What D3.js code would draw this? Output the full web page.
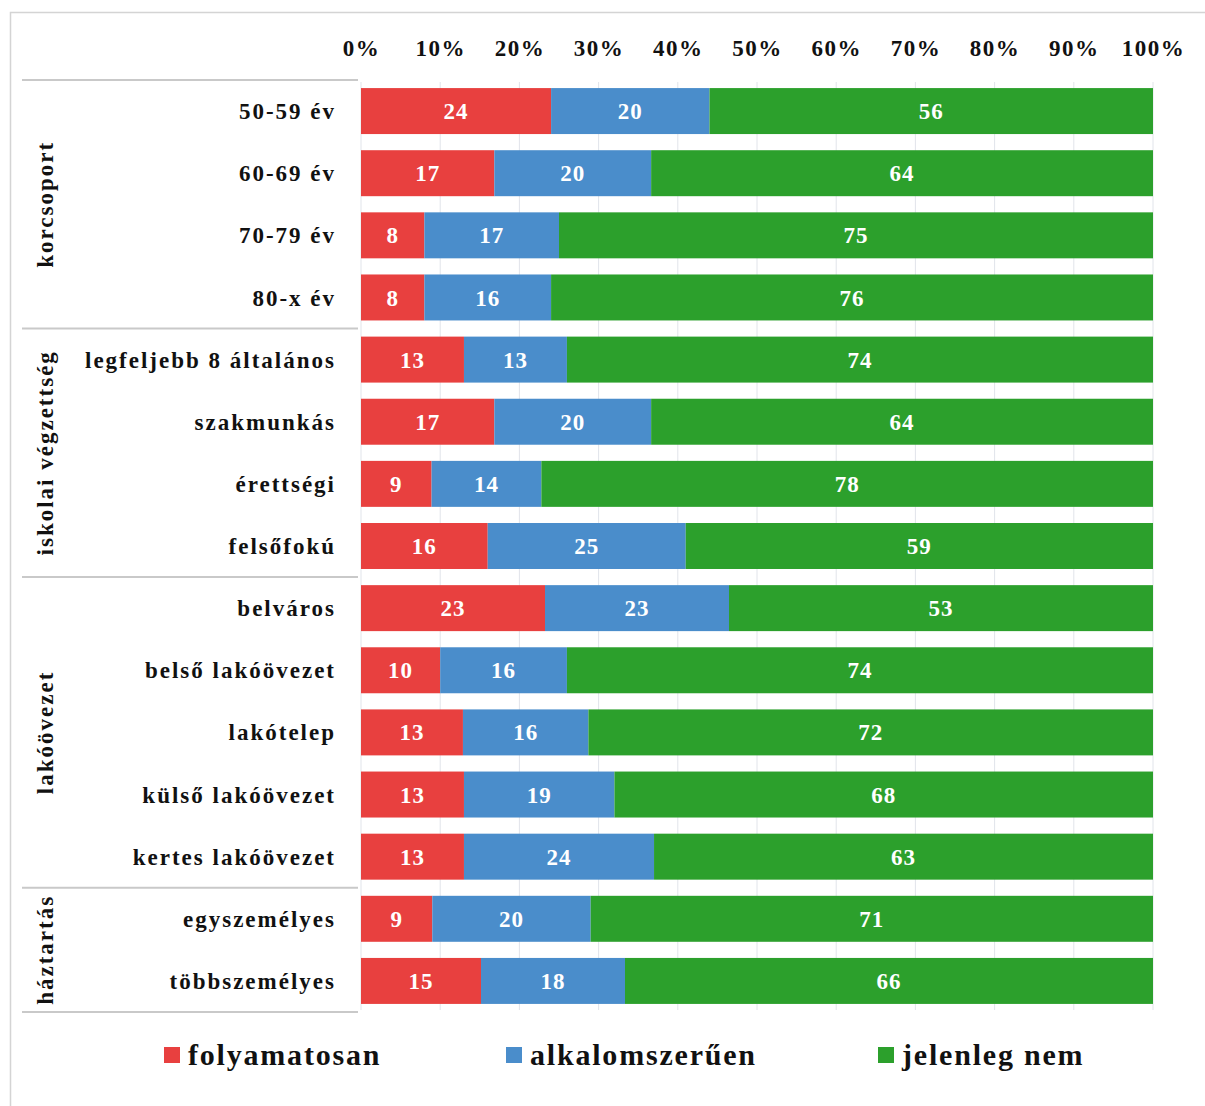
<!DOCTYPE html>
<html>
<head>
<meta charset="utf-8">
<script src="https://cdn.jsdelivr.net/npm/d3@7"></script>
<style>
  html, body { margin: 0; padding: 0; background: #fff; }
  svg text { font-family: "Liberation Serif", "DejaVu Serif", serif !important; font-weight: bold; }
</style>
</head>
<body>
<svg id="chart" width="1205" height="1106"></svg>
<script>
// ---- data ----
const categories = [
  "50-59 év", "60-69 év", "70-79 év", "80-x év",
  "legfeljebb 8 általános", "szakmunkás", "érettségi", "felsőfokú",
  "belváros", "belső lakóövezet", "lakótelep", "külső lakóövezet", "kertes lakóövezet",
  "egyszemélyes", "többszemélyes"
];
const groups = ["korcsoport", "iskolai végzettség", "lakóövezet", "háztartás"];
const groupSizes = [4, 4, 5, 2];
const seriesNames = ["folyamatosan", "alkalomszerűen", "jelenleg nem"];
const folyamatosan   = [24, 17, 8, 8, 13, 17, 9, 16, 23, 10, 13, 13, 13, 9, 15];
const alkalomszeruen = [20, 20, 17, 16, 13, 20, 14, 25, 23, 16, 16, 19, 24, 20, 18];
const jelenlegNem    = [56, 64, 75, 76, 74, 64, 78, 59, 53, 74, 72, 68, 63, 71, 66];
const tickLabels = ["0%", "10%", "20%", "30%", "40%", "50%", "60%", "70%", "80%", "90%", "100%"];
const colors = ["#e8403f", "#4a8dcb", "#2ca02c"];

// ---- build table ----
const keys = ["f", "a", "j"];
const rows = categories.map((c, i) => ({ cat: c, f: folyamatosan[i], a: alkalomszeruen[i], j: jelenlegNem[i] }));
const stacked = d3.stack().keys(keys).offset(d3.stackOffsetExpand)(rows);

const svg = d3.select("#chart").style("font-family", "'Liberation Serif', serif");
const FONT = "'Liberation Serif', 'DejaVu Serif', serif";

// frame
svg.append("rect").attr("x", 10.5).attr("y", 12.5).attr("width", 1200).attr("height", 1100)
  .attr("fill", "none").attr("stroke", "#d4d4d4").attr("stroke-width", 1.5);

const x = d3.scaleLinear().domain([0, 1]).range([361, 1153]);
const y = d3.scaleBand().domain(categories).range([80, 1012]).paddingInner(0.26).paddingOuter(0.13);

// grid lines
const ticks = d3.range(0, 1.0001, 0.1);
svg.append("g").selectAll("line").data(ticks).join("line")
  .attr("x1", d => x(d)).attr("x2", d => x(d))
  .attr("y1", 82).attr("y2", 1010)
  .attr("stroke", "#e1e4ea").attr("stroke-width", 1);

// top axis
const axis = d3.axisTop(x).tickValues(ticks).tickFormat((d, i) => tickLabels[i]).tickSize(0).tickPadding(0);
const ag = svg.append("g").attr("transform", "translate(0,56)").call(axis);
ag.attr("font-family", null);
ag.select(".domain").remove();
ag.selectAll("text").attr("font-size", 23).attr("fill", "#111")
  .style("letter-spacing", "1.5px").style("font-family", FONT).attr("font-weight", "bold");

// bars
const layer = svg.append("g").selectAll("g").data(stacked).join("g")
  .attr("fill", (d, i) => colors[i]);
layer.selectAll("rect").data(d => d).join("rect")
  .attr("x", d => x(d[0])).attr("width", d => x(d[1]) - x(d[0]))
  .attr("y", d => y(d.data.cat)).attr("height", y.bandwidth());

// value labels
svg.append("g").selectAll("g").data(stacked).join("g")
  .selectAll("text").data(s => s.map(d => ({ d, key: s.key }))).join("text")
  .attr("x", o => (x(o.d[0]) + x(o.d[1])) / 2)
  .attr("y", o => y(o.d.data.cat) + y.bandwidth() / 2)
  .attr("dy", "0.35em").attr("text-anchor", "middle")
  .attr("font-size", 23).attr("fill", "#fff").style("letter-spacing", "1px").style("font-family", FONT)
  .text(o => o.d.data[o.key]);

// category labels
const yAxis = d3.axisLeft(y).tickSize(0).tickPadding(0);
const yg = svg.append("g").attr("transform", "translate(336,0)").call(yAxis);
yg.attr("font-family", null);
yg.select(".domain").remove();
yg.selectAll("text").attr("font-size", 23).attr("fill", "#111")
  .style("letter-spacing", "2px").style("font-family", FONT).attr("font-weight", "bold")
  .attr("dy", "0.35em");

// group separators and labels
const lines = [0];
let start = 0;
groupSizes.forEach(s => { start += s; lines.push(start); });
const bound = i => {
  if (i === 0) return y(categories[0]) - (y.step() - y.bandwidth()) / 2;
  return y(categories[i - 1]) + y.bandwidth() + (y.step() - y.bandwidth()) / 2;
};
svg.append("g").selectAll("line").data(lines).join("line")
  .attr("x1", 22).attr("x2", 358)
  .attr("y1", d => bound(d)).attr("y2", d => bound(d))
  .attr("stroke", "#c9c9c9").attr("stroke-width", 2);

svg.append("g").selectAll("text").data(groups).join("text")
  .attr("transform", (g, i) => {
    const cy = (bound(lines[i]) + bound(lines[i + 1])) / 2;
    return `translate(45,${cy}) rotate(-90)`;
  })
  .attr("text-anchor", "middle").attr("dy", "0.35em")
  .attr("font-size", 23).attr("fill", "#111").style("letter-spacing", "2px").style("font-family", FONT)
  .text(d => d);

// legend
const legendX = [164, 506, 878];
const lg = svg.append("g").selectAll("g").data(seriesNames).join("g")
  .attr("transform", (d, i) => `translate(${legendX[i]},1047)`);
lg.append("rect").attr("width", 16).attr("height", 16).attr("fill", (d, i) => colors[i]);
lg.append("text").attr("x", 24).attr("y", 7).attr("dy", "0.35em")
  .attr("font-size", 30).attr("fill", "#111").style("letter-spacing", "1.8px").style("font-family", FONT)
  .text(d => d);
</script>
</body>
</html>
